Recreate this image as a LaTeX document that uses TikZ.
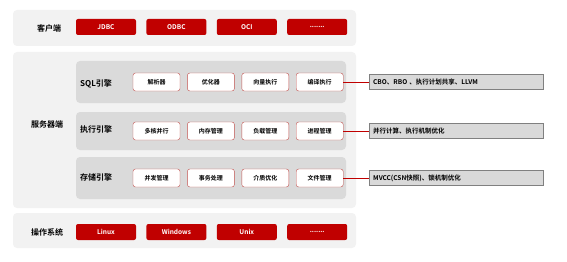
\documentclass[tikz,border=0pt]{standalone}
\usepackage{fontspec}
\setmainfont{Noto Sans CJK SC}[BoldFont={Noto Sans CJK SC Bold}]
\usetikzlibrary{positioning}
\definecolor{bandgray}{HTML}{F2F2F2}
\definecolor{enginegray}{HTML}{DADADA}
\definecolor{boxred}{HTML}{C00000}
\definecolor{modred}{HTML}{C0504D}
\definecolor{notegray}{HTML}{D9D9D9}
\tikzset{
    band/.style={rectangle, fill=bandgray, rounded corners=4pt, minimum width=343pt, inner sep=0pt},
    engine/.style={rectangle, fill=enginegray, rounded corners=4pt, minimum width=270pt, minimum height=42pt, inner sep=0pt},
    layer/.style={font=\bfseries\fontsize{8}{9}\selectfont, inner sep=0pt},
    redbox/.style={rectangle, fill=boxred, text=white, rounded corners=2pt, minimum width=60pt, minimum height=16pt, inner sep=0pt, font=\bfseries\fontsize{6.5}{7.5}\selectfont},
    module/.style={rectangle, draw=modred, fill=white, rounded corners=2.5pt, minimum width=47pt, minimum height=18pt, inner sep=0pt, font=\bfseries\fontsize{6}{7}\selectfont},
    note/.style={rectangle, draw=gray, fill=notegray, text width=166pt, minimum height=15pt, inner sep=4pt, align=left, font=\bfseries\fontsize{6.5}{8}\selectfont},
    link/.style={draw=boxred, thick}
}
\begin{document}
\begin{tikzpicture}[x=1pt, y=-1pt, node distance=10pt]
    \useasboundingbox (0,0) rectangle (567,262);

    % Layers
    \node[band, minimum height=36pt] (client) at (184.5,28) {};
    \node[band, minimum height=156pt] (server) at (184.5,130) {};
    \node[band, minimum height=35pt] (os) at (184.5,230.5) {};

    \node[layer] (clientlabel) at (49,28) {客户端};
    \node[layer] (serverlabel) at (47,124) {服务器端};
    \node[layer] (oslabel) at (47,232) {操作系统};

    % Client drivers
    \node[redbox] (jdbc) at (106,27) {JDBC};
    \node[redbox, right=of jdbc] (odbc) {ODBC};
    \node[redbox, right=of odbc] (oci) {OCI};
    \node[redbox, right=of oci] (moreclient) {.......};

    % Engines
    \node[engine] (sql) at (211,82) {};
    \node[engine, minimum height=38pt] (exec) at (211,131) {};
    \node[engine] (storage) at (211,178) {};

    \node[layer, anchor=west] (sqllabel) at (80,84) {SQL引擎};
    \node[layer, anchor=west] (execlabel) at (80,129) {执行引擎};
    \node[layer, anchor=west] (storagelabel) at (80,177) {存储引擎};

    % SQL engine modules
    \node[module] (parser) at (156.5,82) {解析器};
    \node[module, right=7pt of parser] (optimizer) {优化器};
    \node[module, right=7pt of optimizer] (vector) {向量执行};
    \node[module, right=7pt of vector] (compile) {编译执行};

    % Execution engine modules
    \node[module] (multicore) at (156.5,131) {多核并行};
    \node[module, right=7pt of multicore] (memory) {内存管理};
    \node[module, right=7pt of memory] (load) {负载管理};
    \node[module, right=7pt of load] (process) {进程管理};

    % Storage engine modules
    \node[module] (concurrency) at (156.5,178) {并发管理};
    \node[module, right=7pt of concurrency] (transaction) {事务处理};
    \node[module, right=7pt of transaction] (medium) {介质优化};
    \node[module, right=7pt of medium] (file) {文件管理};

    % OS
    \node[redbox] (linux) at (106,232) {Linux};
    \node[redbox, right=of linux] (windows) {Windows};
    \node[redbox, right=of windows] (unix) {Unix};
    \node[redbox, right=of unix] (moreos) {.......};

    % Notes
    \node[note, anchor=west] (sqlnote) at (369,82) {CBO、RBO 、执行计划共享、LLVM};
    \node[note, anchor=west] (execnote) at (369,131) {并行计算、执行机制优化};
    \node[note, anchor=west] (storagenote) at (369,178) {MVCC(CSN快照)、锁机制优化};

    \draw[link] (compile) -- (sqlnote);
    \draw[link] (process) -- (execnote);
    \draw[link] (file) -- (storagenote);
\end{tikzpicture}
\end{document}
